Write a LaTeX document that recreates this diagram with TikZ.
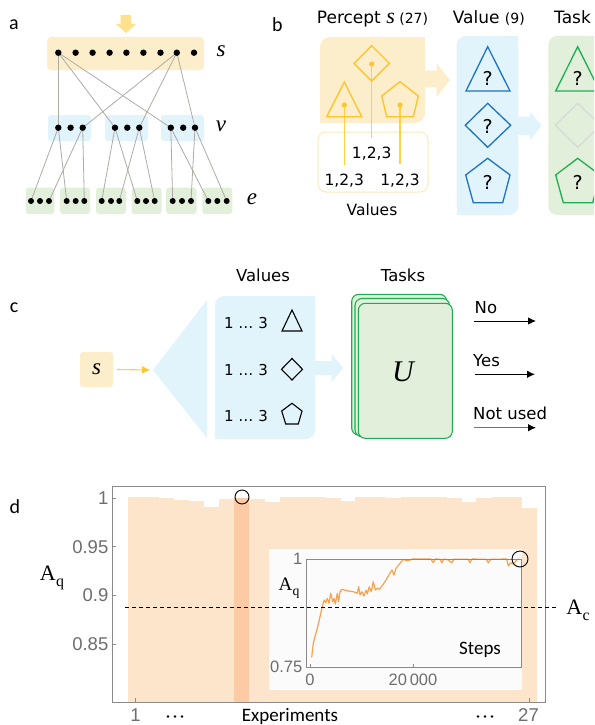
\documentclass[tikz,border=0pt]{standalone}
\usepackage[no-math]{fontspec}
\setmainfont{DejaVu Sans}
\newfontfamily\carl{Carlito}
\newfontfamily\arl{Liberation Sans}
\newfontfamily\mser{Liberation Serif}
\newcommand{\myital}[1]{{\mser\itshape #1}}
\newcommand{\asub}[1]{{\mser A\kern0.3pt\raisebox{-0.28em}{\scalebox{0.72}{#1}}}}
\usetikzlibrary{arrows.meta}
\definecolor{yfill}{HTML}{FDEECB}
\definecolor{yarrow}{HTML}{FFE08C}
\definecolor{yline}{HTML}{FFC52E}
\definecolor{ythin}{HTML}{FFCF4A}
\definecolor{yedge}{HTML}{FDEBC0}
\definecolor{bfill}{HTML}{E1F3FB}
\definecolor{bline}{HTML}{1F74BD}
\definecolor{gfill}{HTML}{E2EFDA}
\definecolor{gline}{HTML}{1DAE52}
\definecolor{gdia}{HTML}{D9D9D9}
\definecolor{alines}{HTML}{AEABA6}
\definecolor{peach}{HTML}{FDE5CB}
\definecolor{peachd}{HTML}{FCCBA5}
\definecolor{curve}{HTML}{F8A24E}
\definecolor{axisg}{HTML}{8A8A8A}
\definecolor{tickg}{HTML}{6E6E6E}
\definecolor{insetbg}{HTML}{FBFBFB}
\pgfdeclarelayer{bg}\pgfdeclarelayer{mid}\pgfsetlayers{bg,mid,main}
\begin{document}
\begin{tikzpicture}[x=1pt,y=-1pt,
  dot/.style={circle,fill=black,inner sep=0pt,minimum size=6.4pt},
  edot/.style={circle,fill=black,inner sep=0pt,minimum size=6pt},
  conn/.style={draw=alines,line width=0.8pt},
  plabel/.style={font=\carl\fontsize{20}{24}\selectfont,inner sep=0pt},
  ttl/.style={font=\fontsize{17}{20}\selectfont,inner sep=0pt,anchor=base west},
  ctr/.style={font=\fontsize{16.5}{20}\selectfont,inner sep=0pt,anchor=base},
  qm/.style={font=\fontsize{19}{22}\selectfont,inner sep=0pt,anchor=base},
  mlab/.style={font=\fontsize{23}{26}\selectfont,inner sep=0pt},
  tick/.style={font=\arl\fontsize{18.5}{22}\selectfont,text=tickg,inner sep=0pt},
  itick/.style={font=\arl\fontsize{16.5}{20}\selectfont,text=tickg,inner sep=0pt},
  outarr/.style={line width=0.9pt,-{Latex[length=8pt,width=7.5pt]}},
  taskcard/.style={draw=gline,fill=gfill,line width=1.1pt,rounded corners=7pt}
]
\useasboundingbox (0,0) rectangle (594,725);
\clip (0,0) rectangle (594,725);
\begin{pgfonlayer}{bg}
\fill[white] (0,0) rectangle (594,725);
\end{pgfonlayer}

% ---------------- panel a ----------------
\node[plabel] (la) at (14,24.5) {a};
\fill[yarrow] (120.7,15) -- (131,15) -- (131,24) -- (136,24) -- (126,33) -- (116,24) -- (120.7,24) -- cycle;
\begin{pgfonlayer}{bg}
\fill[yfill,rounded corners=4pt] (47,37) rectangle (204,70);
\foreach \xa/\xb in {48/91,105/148,161/204}
  \fill[bfill,rounded corners=3pt] (\xa,115) rectangle (\xb,141);
\foreach \xa/\xb in {26/54.3,60/90,96/126,131.7/161.7,166/196.7,202.3/232.3}
  \fill[gfill,rounded corners=3pt] (\xa,187.7) rectangle (\xb,214);
\end{pgfonlayer}
\foreach \i/\x in {1/58.3,2/75.6,3/92.6,4/109.6,5/126.4,6/143.4,7/160.5,8/176.8,9/194}
  \node[dot] (s\i) at (\x,52.7) {};
\foreach \n/\x in {11/58.3,12/70.6,13/82.7,21/115,22/127.3,23/139.3,31/170.8,32/183.2,33/195}
  \node[dot] (v\n) at (\x,127.7) {};
\foreach \n/\x in {11/31,12/40,13/49,21/66.7,22/75.7,23/84.3,31/101.7,32/111,33/119.3,41/137.3,42/146,43/154.7,51/172.7,52/182,53/191,61/208.3,62/217.3,63/226.7}
  \node[edot] (e\n) at (\x,201) {};
\begin{pgfonlayer}{mid}
\foreach \a/\b in {s1/v11,s1/v21,s1/v31,s8/v13,s8/v23,s8/v33,v11/e11,v11/e21,v13/e13,v13/e23,v21/e31,v21/e41,v23/e33,v23/e43,v31/e51,v31/e61,v33/e53,v33/e63}
  \draw[conn] (\a.center) -- (\b.center);
\end{pgfonlayer}
\node[mlab] (ls) at (221,51) {\myital{s}};
\node[mlab] (lv) at (221,126) {\myital{v}};
\node[mlab] (le) at (252,199) {\myital{e}};

% ---------------- panel b ----------------
\node[plabel] (lb) at (277.5,25) {b};
\node[ttl] (tperc) at (316.7,24) {Percept \fontsize{22}{24}\selectfont\myital{s}\fontsize{14}{16}\selectfont\ (27)};
\node[ttl] (tval) at (452.7,24) {Value \fontsize{14}{16}\selectfont(9)};
\node[ttl] (ttask) at (554,24) {Task};
% percept box
\fill[yfill,rounded corners=10pt] (320,37) rectangle (425,123);
\fill[yfill] (410,37) rectangle (425,52);
\fill[yfill] (320,108) rectangle (335,123);
\fill[yfill] (425,70.7) -- (436.7,70.7) -- (436.7,63.3) -- (450,80) -- (436.7,96.7) -- (436.7,87.3) -- (425,87.3) -- cycle;
\draw[yedge,line width=1pt,rounded corners=8pt] (318,132) rectangle (428,192);
% lines from dots
\draw[ythin,line width=1.1pt] (344.3,105) -- (344.3,165);
\draw[ythin,line width=1.1pt] (371.7,64) -- (371.7,138);
\draw[ythin,line width=1.1pt] (400,105) -- (400,164);
\draw[yline,line width=1.4pt,line join=miter] (344.3,82) -- (361.7,116.7) -- (326.7,116.7) -- cycle;
\draw[yline,line width=1.4pt] (371.7,45.7) -- (389.3,63.3) -- (371.7,81) -- (354,63.3) -- cycle;
\draw[yline,line width=1.4pt] (400,81.7) -- (418.3,96) -- (413.3,116.7) -- (386.7,116.7) -- (381.7,96) -- cycle;
\fill[yline] (344.3,105) circle (2.6);
\fill[yline] (371.7,64) circle (2.6);
\fill[yline] (400,105) circle (2.6);
\node[ctr,font=\fontsize{15.5}{18}\selectfont] (v123a) at (371.7,158.3) {1,2,3};
\node[ctr,font=\fontsize{15.5}{18}\selectfont] (v123b) at (344.3,185) {1,2,3};
\node[ctr,font=\fontsize{15.5}{18}\selectfont] (v123c) at (400,185) {1,2,3};
\node[ctr,font=\fontsize{15.5}{18}\selectfont] (tvalues) at (372,215) {Values};
% value box
\fill[bfill,rounded corners=9pt] (456.7,36) rectangle (518.3,215);
\fill[bfill] (505,36) rectangle (518.3,50);
\fill[bfill] (456.7,200) rectangle (470,215);
\fill[bfill] (518,116.7) -- (530,116.7) -- (530,111.7) -- (541.7,125.8) -- (530,140) -- (530,135) -- (518,135) -- cycle;
\draw[bline,line width=1.3pt] (487.7,46.7) -- (510,91) -- (466,91) -- cycle;
\draw[bline,line width=1.3pt] (487.7,103.3) -- (510.7,125.3) -- (487.7,147.3) -- (465.3,125.3) -- cycle;
\draw[bline,line width=1.3pt] (487.7,158.3) -- (510,175) -- (502.7,202.7) -- (473.3,202.7) -- (465.7,175) -- cycle;
\node[qm] (q1) at (487.7,85) {?};
\node[qm] (q2) at (487.7,133.3) {?};
\node[qm] (q3) at (487.7,189) {?};
% task box
\fill[gfill,rounded corners=9pt] (548.3,36) rectangle (610,215);
\draw[gline,line width=1.3pt] (577.7,46.7) -- (599.7,91) -- (555.7,91) -- cycle;
\draw[gdia,line width=1.3pt] (577.7,103.3) -- (600.7,125.3) -- (577.7,147.3) -- (555.3,125.3) -- cycle;
\draw[gline,line width=1.3pt] (577.7,158.3) -- (600,175) -- (592.7,202.7) -- (563.3,202.7) -- (555.7,175) -- cycle;
\node[qm] (q4) at (577.7,85) {?};
\node[qm] (q5) at (577.7,189) {?};

% ---------------- panel c ----------------
\node[plabel] (lc) at (14,308) {c};
\node[fill=yfill,rounded corners=3pt,minimum width=33pt,minimum height=35pt,inner sep=0pt,font=\fontsize{23}{26}\selectfont] (sc) at (96.5,369.5) {\myital{s}};
\coordinate (apex) at (153,370);
\fill[bfill] (apex) -- (207,300) -- (207,438) -- cycle;
\draw[ythin,line width=1.1pt,-{Latex[length=8pt,width=8pt,color=yline]}] ([xshift=4pt]sc.east) -- ([xshift=-3pt]apex);
\fill[bfill,rounded corners=9pt] (215,296) rectangle (315,439);
\fill[bfill] (300,296) rectangle (315,310);
\fill[bfill] (215,425) rectangle (230,439);
\node[ctr] (tvalc) at (263,281.7) {Values};
\node[ctr] (ttaskc) at (403,281.7) {Tasks};
\node[ctr,font=\fontsize{15}{18}\selectfont] (r1) at (246,328.3) {1 … 3};
\node[ctr,font=\fontsize{15}{18}\selectfont] (r2) at (246,375) {1 … 3};
\node[ctr,font=\fontsize{15}{18}\selectfont] (r3) at (246,421.7) {1 … 3};
\draw[black,line width=1.1pt] (292,310) -- (302,331) -- (282,331) -- cycle;
\draw[black,line width=1.1pt] (292,358.5) -- (302.5,369.3) -- (292,380) -- (281.5,369.3) -- cycle;
\draw[black,line width=1.1pt] (292,403.3) -- (302,411) -- (298.3,424) -- (285.7,424) -- (281.7,411) -- cycle;
\fill[bfill] (315,361) -- (331.7,361) -- (331.7,354) -- (343.3,368) -- (331.7,382) -- (331.7,375) -- (315,375) -- cycle;
\draw[taskcard] (351.7,294.3) rectangle (446.7,435);
\draw[taskcard] (355,298.5) rectangle (449.5,436.7);
\node[taskcard,draw,minimum width=94pt,minimum height=135pt,inner sep=0pt] (tu) at (405.3,370.8) {};
\node[font=\fontsize{30}{32}\selectfont,inner sep=0pt,anchor=base] (lu) at (403,381) {\myital{U}};
\node[ctr,anchor=base west] (tno) at (474.5,313.3) {No};
\node[ctr,anchor=base west] (tyes) at (473,366) {Yes};
\node[ctr,anchor=base west] (tnu) at (473,419.3) {Not used};
\coordinate (a1s) at (474.3,321); \coordinate (a1e) at (536,321);
\coordinate (a2s) at (475.3,374.3); \coordinate (a2e) at (535,374.3);
\coordinate (a3s) at (474.3,427.7); \coordinate (a3e) at (536,427.7);
\draw[outarr] (a1s) -- (a1e);
\draw[outarr] (a2s) -- (a2e);
\draw[outarr,draw=black!55,-{Latex[length=8pt,width=7.5pt,color=black]}] (a3s) -- (a3e);

% ---------------- panel d ----------------
\node[plabel] (ld) at (15,507) {d};
\foreach \t [count=\i from 0] in {497,497.3,498.3,500,500.5,507,498.5,498,498.5,502,497,497,497,497.5,501,497,497,497.5,497,497,497,497.5,502,497.5,497,497,508}
  \fill[peach] ({128+15.15*\i},\t) rectangle ({128+15.15*(\i+1)+0.4},702);
\fill[peachd] (234.1,498) rectangle (249.2,702);
\draw[axisg,line width=1pt] (112,486) rectangle (545,702);
\foreach \v/\y in {1/498,0.95/546.7,0.9/595.3,0.85/644}{
  \draw[axisg,line width=0.8pt] (112,\y) -- (116,\y);
  \node[tick,anchor=east] at (108.5,\y) {\v};
}
\draw[axisg,line width=0.8pt] (135.6,702) -- (135.6,698);
\draw[axisg,line width=0.8pt] (529.4,702) -- (529.4,698);
\node[tick,anchor=base] (x1) at (135.6,721.8) {1};
\node[tick,anchor=base] (x27) at (528.5,721.8) {27};
\node[font=\carl\fontsize{19}{22}\selectfont,inner sep=0pt,anchor=base] (texp) at (290,721) {Experiments};
\foreach \cx in {175,485}
  \foreach \dx in {-7,0,7}
    \fill[black] (\cx+\dx,716.5) circle (1.4);
\node[font=\fontsize{22}{24}\selectfont,inner sep=0pt,anchor=base] (aq) at (52,580) {\asub{q}};
% inset
\fill[insetbg] (269,549) rectangle (522,690);
\draw[curve,line width=1.2pt,line join=round] plot coordinates {
(311.7,657.3) (313.3,643.3) (315,636.7) (317.3,628.3) (320,616.7) (322.7,605) (324.3,600) (325.7,602.7) (327.3,598.3) (329,603.3) (330.7,593.3) (332.7,601.7) (334,598.3) (335.3,604) (337.3,593.3) (338.7,601.7) (340,591.7) (342,589.3) (346.7,590.7) (353.3,591.7) (357.3,593.3) (358.7,586.7) (360,595) (362,591.7) (364,596) (366,590) (367.3,594) (369.3,586.7) (371.3,591.7) (373.3,581.7) (375.3,590) (377.3,588.3) (379.3,589.3) (382.7,585) (386,580) (389.3,574.3) (392,570) (394,575) (396,568.3) (398.7,565) (401.3,561.7) (403.3,559.3) (406.7,560.7) (410,560) (412.7,558.9) (416.7,559) (424,558.9) (430.7,558.9) (433.3,562.7) (435.3,558.9) (440,559.3) (442,562.7) (444,559) (448.3,560) (451.7,562.7) (454,559.3) (468.3,559.3) (470,562.7) (472,559) (486,559.3) (488.3,562.7) (490.7,559.3) (506.7,559) (508.3,566) (510.7,562.7) (513.3,564) (516.7,560) (519.3,559)};
\draw[axisg,line width=1pt] (306,559) rectangle (521,667);
\draw[axisg,line width=0.8pt] (310,667) -- (310,664);
\draw[axisg,line width=0.8pt] (413,667) -- (413,664);
\node[itick,anchor=east] (i1) at (302.5,559) {1};
\node[itick,anchor=east] (i075) at (302.5,666.5) {0.75};
\node[itick,anchor=base] (i0) at (310,685) {0};
\node[itick,anchor=base] (i20) at (413,685) {20\,000};
\node[font=\carl\fontsize{19}{22}\selectfont,inner sep=0pt,anchor=base] (tsteps) at (480,654) {Steps};
\node[font=\fontsize{19}{22}\selectfont,inner sep=0pt,anchor=base] (aqi) at (289,590) {\asub{q}};
% dashed A_c line
\coordinate (dl) at (125,607); \coordinate (dr) at (558,607);
\draw[black,line width=0.8pt,dash pattern=on 4pt off 3pt] (dl) -- (dr);
\node[font=\fontsize{22}{24}\selectfont,inner sep=0pt,anchor=base] (ac) at (578,614) {\asub{c}};
\draw[black,line width=0.9pt] (242,497) circle (7);
\draw[black,line width=0.9pt] (520,559) circle (8);
\end{tikzpicture}
\end{document}
